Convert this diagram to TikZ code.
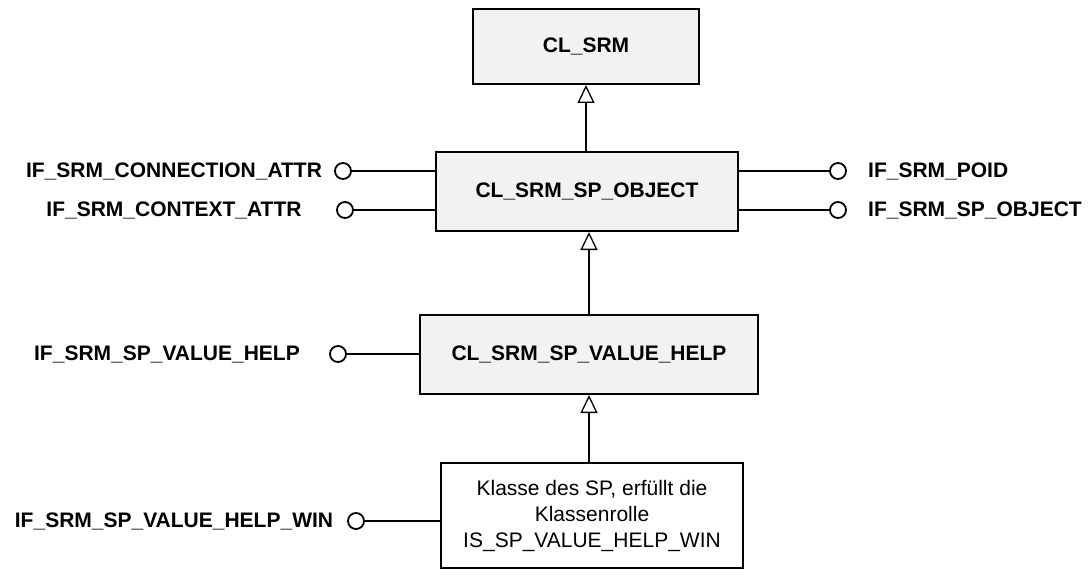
\documentclass[tikz,border=0pt]{standalone}
\usepackage{fontspec}
\setmainfont{Liberation Sans}
\usetikzlibrary{arrows.meta}
\definecolor{boxfill}{HTML}{F2F2F2}
\begin{document}
\begin{tikzpicture}[x=1pt,y=-1pt,
  base/.style={inner sep=0pt, font=\fontsize{21}{26}\selectfont},
  clsbox/.style={base, draw, line width=2pt, fill=boxfill, font=\bfseries\fontsize{21}{26}\selectfont},
  plainbox/.style={base, draw, line width=2pt, fill=white, align=center},
  lbl/.style={base, font=\bfseries\fontsize{21}{26}\selectfont},
  lolli/.style={draw, circle, line width=1.8pt, minimum size=16pt, inner sep=0pt, fill=white},
  conn/.style={line width=1.3pt},
  gen/.style={line width=1.3pt, -{Triangle[open, length=18pt, width=17pt, line width=1.3pt]}}
]
\useasboundingbox (0,0) rectangle (1091,575);

% classes
\node[clsbox, minimum width=226pt, minimum height=75pt] (srm) at (586,46.5) {CL\_SRM};
\node[clsbox, minimum width=302pt, minimum height=79pt] (obj) at (587,191.5) {CL\_SRM\_SP\_OBJECT};
\node[clsbox, minimum width=338pt, minimum height=79pt] (help) at (589,354.5) {CL\_SRM\_SP\_VALUE\_HELP};
\node[plainbox, minimum width=302pt, minimum height=105pt] (win) at (592,515.5)
  {Klasse des SP, erfüllt die\\Klassenrolle\\IS\_SP\_VALUE\_HELP\_WIN};

% generalisations
\draw[gen] (obj.north -| srm.south) -- (srm.south);
\draw[gen] (help.north) -- (help.north |- obj.south);
\draw[gen] (win.north -| help.south) -- (help.south);

% interfaces of CL_SRM_SP_OBJECT
\node[lolli] (c1) at (343,171) {};
\node[lolli] (c2) at (345,210) {};
\node[lolli] (c3) at (838,171) {};
\node[lolli] (c4) at (838,210) {};
\draw[conn] (c1) -- (c1 -| obj.west);
\draw[conn] (c2) -- (c2 -| obj.west);
\draw[conn] (c3) -- (c3 -| obj.east);
\draw[conn] (c4) -- (c4 -| obj.east);
\node[lbl] (l1) at (174,171) {IF\_SRM\_CONNECTION\_ATTR};
\node[lbl] (l2) at (174,210) {IF\_SRM\_CONTEXT\_ATTR};
\node[lbl, anchor=west] (l3) at (868,171) {IF\_SRM\_POID};
\node[lbl, anchor=west] (l4) at (868,210) {IF\_SRM\_SP\_OBJECT};

% interface of CL_SRM_SP_VALUE_HELP
\node[lolli] (c5) at (338,354) {};
\draw[conn] (c5) -- (c5 -| help.west);
\node[lbl] (l5) at (167,354) {IF\_SRM\_SP\_VALUE\_HELP};

% interface of the SP class
\node[lolli] (c6) at (356,521) {};
\draw[conn] (c6) -- (c6 -| win.west);
\node[lbl] (l6) at (174,521) {IF\_SRM\_SP\_VALUE\_HELP\_WIN};
\end{tikzpicture}
\end{document}
